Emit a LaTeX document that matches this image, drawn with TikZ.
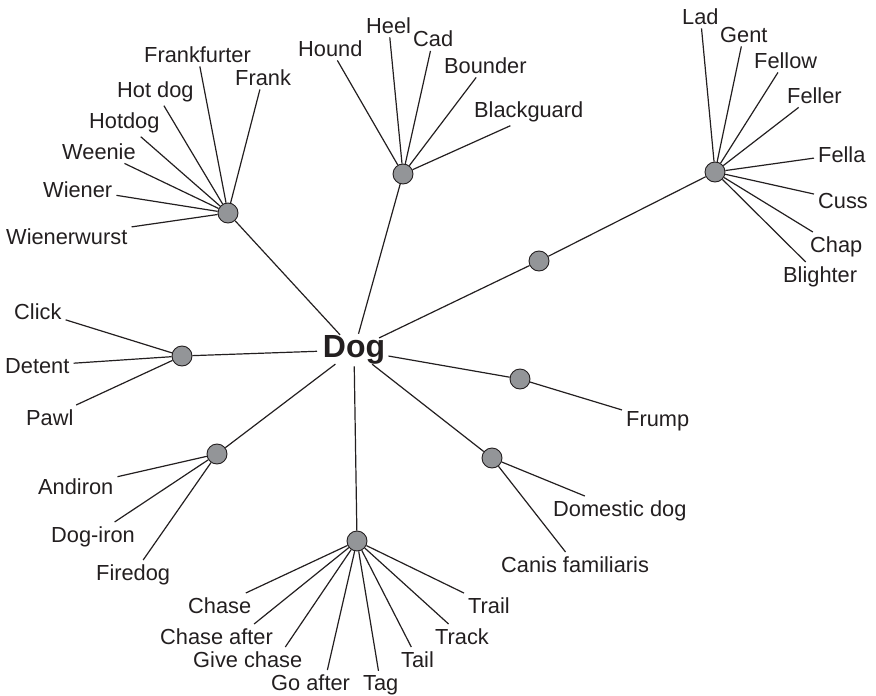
\documentclass[tikz,border=0pt]{standalone}
\usepackage{fontspec}
\setmainfont{Liberation Sans}
\usetikzlibrary{shapes.geometric}
\definecolor{ink}{HTML}{231F20}
\definecolor{hubfill}{HTML}{939598}
\begin{document}
\begin{tikzpicture}[x=1pt,y=-1pt,
  word/.style={anchor=base west, xshift=-4pt, inner sep=4pt, text=ink,
    font=\fontsize{21.8}{26}\selectfont},
  hub/.style={circle, draw=ink, fill=hubfill, line width=0.9pt,
    minimum size=20pt, inner sep=0pt},
  root/.style={ellipse, inner xsep=-5pt, inner ysep=-3pt, text=ink,
    font=\fontsize{32}{38}\selectfont\bfseries},
  link/.style={draw=ink, line width=1.2pt}]
\useasboundingbox (0,0) rectangle (876,696);

% centre word
\node[root] (dog) at (354,350) {Dog};

% sense hubs
\node[hub] (hA) at (228,213) {};
\node[hub] (hB) at (403,174) {};
\node[hub] (hC) at (715,172) {};
\node[hub] (hD) at (539,261) {};
\node[hub] (hE) at (182,356) {};
\node[hub] (hF) at (217,454) {};
\node[hub] (hG) at (357,541) {};
\node[hub] (hH) at (520,379) {};
\node[hub] (hI) at (492,458) {};

% words
\node[word] (frankfurter) at (144,62) {Frankfurter};
\node[word] (frank) at (235,85) {Frank};
\node[word] (hotdogsp) at (117,97) {Hot dog};
\node[word] (hotdog) at (89,128) {Hotdog};
\node[word] (weenie) at (62,159) {Weenie};
\node[word] (wiener) at (43,197) {Wiener};
\node[word] (wienerwurst) at (6,244) {Wienerwurst};

\node[word] (hound) at (298,56) {Hound};
\node[word] (heel) at (366,33) {Heel};
\node[word] (cad) at (413,46.5) {Cad};
\node[word] (bounder) at (444,73) {Bounder};
\node[word] (blackguard) at (474,117) {Blackguard};

\node[word] (lad) at (682,24) {Lad};
\node[word] (gent) at (720,42) {Gent};
\node[word] (fellow) at (754,68) {Fellow};
\node[word] (feller) at (787,103) {Feller};
\node[word] (fella) at (818,162) {Fella};
\node[word] (cuss) at (818,208) {Cuss};
\node[word] (chap) at (810,252) {Chap};
\node[word] (blighter) at (783,282) {Blighter};

\node[word] (click) at (14,319) {Click};
\node[word] (detent) at (5,373) {Detent};
\node[word] (pawl) at (26,425) {Pawl};

\node[word] (andiron) at (38,494) {Andiron};
\node[word] (dogiron) at (51,542) {Dog-iron};
\node[word] (firedog) at (96,580) {Firedog};

\node[word] (chase) at (188,613) {Chase};
\node[word] (chaseafter) at (160,644) {Chase after};
\node[word] (givechase) at (193,667) {Give chase};
\node[word] (goafter) at (271,690) {Go after};
\node[word] (tag) at (363,690) {Tag};
\node[word] (tail) at (401,667) {Tail};
\node[word] (track) at (435,644) {Track};
\node[word] (trail) at (468,613) {Trail};

\node[word] (frump) at (626,426) {Frump};
\node[word] (domestic) at (553,516) {Domestic dog};
\node[word] (canis) at (501,572) {Canis familiaris};

% trunk
\path[link] (dog) -- (hA);
\path[link] (dog) -- (hB);
\path[link] (dog) -- (hD);
\path[link] (hD) -- (hC);
\path[link] (dog) -- (hE);
\path[link] (dog) -- (hF);
\path[link] (dog) -- (hG);
\path[link] (dog) -- (hH);
\path[link] (dog) -- (hI);

% branches
\foreach \w in {frankfurter,frank,hotdogsp,hotdog,weenie,wiener,wienerwurst}
  \path[link] (hA) -- (\w);
\foreach \w in {hound,heel,cad,bounder}
  \path[link] (hB) -- (\w);
\path[link] (hB) -- (blackguard.218);
\foreach \w in {lad,gent,fellow,feller,fella,cuss,chap,blighter}
  \path[link] (hC) -- (\w);
\foreach \w in {click,detent,pawl}
  \path[link] (hE) -- (\w);
\foreach \w in {andiron,dogiron,firedog}
  \path[link] (hF) -- (\w);
\foreach \w in {chase,tag,tail,track,trail}
  \path[link] (hG) -- (\w);
\path[link] (hG) -- (chaseafter.18);
\path[link] (hG) -- (givechase.18);
\path[link] (hG) -- (goafter.36);
\path[link] (hH) -- (frump);
\path[link] (hI) -- (domestic);
\path[link] (hI) -- (canis);
\end{tikzpicture}
\end{document}
